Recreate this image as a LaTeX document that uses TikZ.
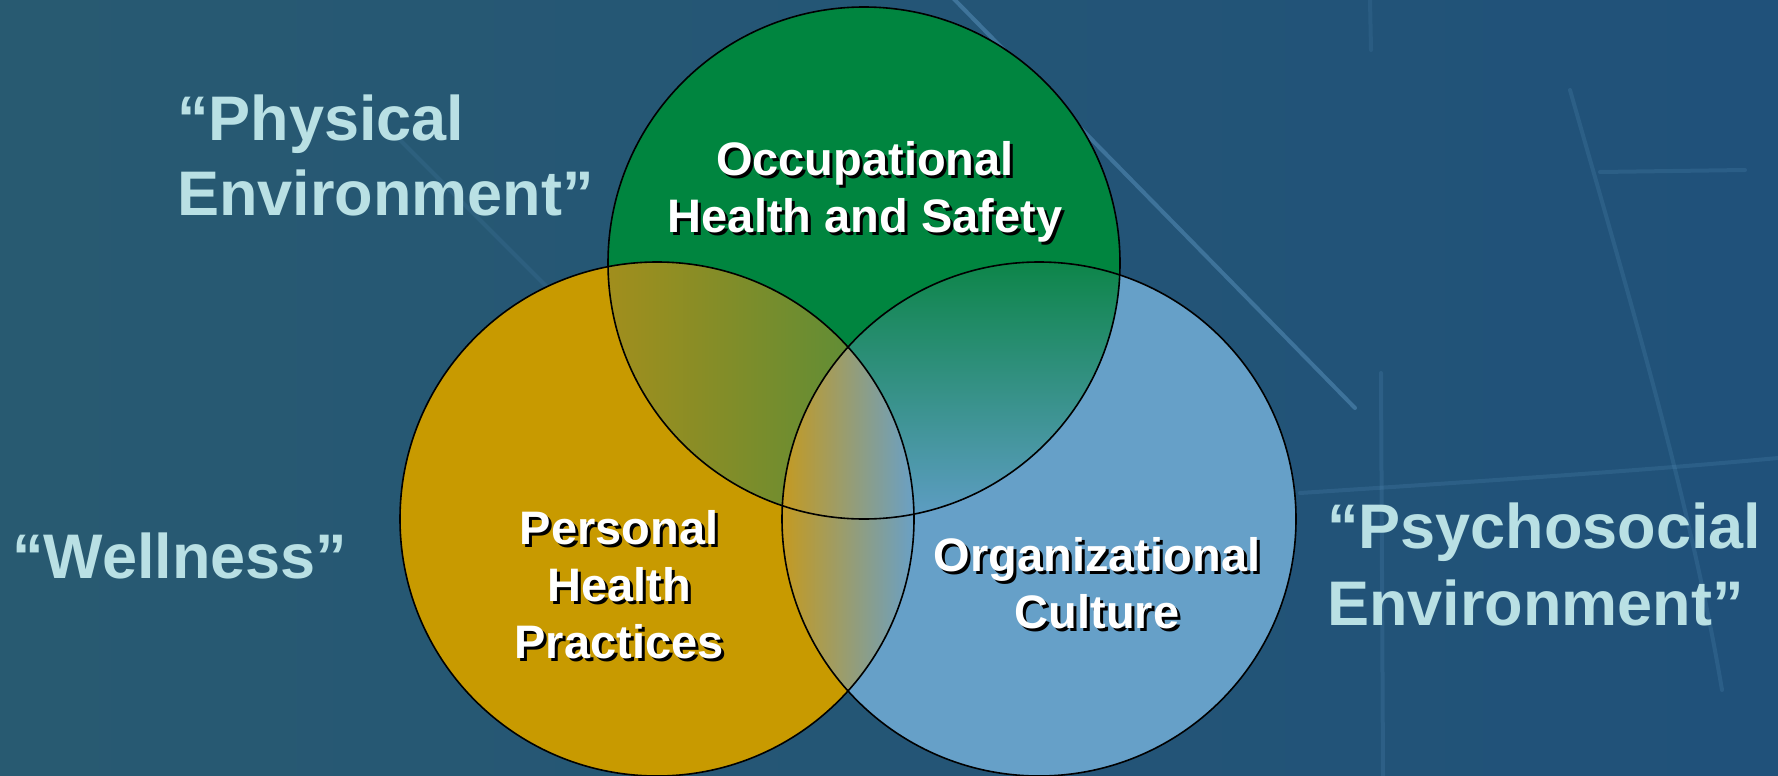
\documentclass[tikz,border=0pt]{standalone}
\usepackage{fontspec}
\setmainfont{Liberation Sans}
\definecolor{bgL}{HTML}{285A71}
\definecolor{bgR}{HTML}{20517A}
\definecolor{streak}{HTML}{5A93BE}
\definecolor{labelcol}{HTML}{B9E0E4}
\definecolor{occgreen}{HTML}{00853F}
\definecolor{persgold}{HTML}{C89A00}
\definecolor{orgblue}{HTML}{66A0C8}
\definecolor{gpL}{HTML}{A28E1C}
\definecolor{gpR}{HTML}{4F8C3C}
\definecolor{gbT}{HTML}{0C8547}
\definecolor{gbB}{HTML}{5E9DC4}
\definecolor{pbL}{HTML}{C69A1E}
\definecolor{pbR}{HTML}{68A0C8}
\begin{document}
\begin{tikzpicture}[x=1pt,y=-1pt,
  outerlabel/.style={font=\fontsize{63}{75}\selectfont\bfseries, text=labelcol, inner sep=0pt, anchor=base west},
  innerlabel/.style={font=\fontsize{47}{56}\selectfont\bfseries, text=white, inner sep=0pt, anchor=base},
  innershadow/.style={font=\fontsize{47}{56}\selectfont\bfseries, text=black, inner sep=0pt, anchor=base},
  bgline/.style={draw=streak, line width=4pt, opacity=0.2, line cap=round},
  ring/.style={draw=black, line width=1.6pt}]
\useasboundingbox (0,0) rectangle (1778,776);
% background
\shade[left color=bgL, right color=bgR] (0,0) rectangle (1778,776);
\draw[bgline, opacity=0.5] (950,-5) -- (1355,408);
\draw[bgline, opacity=0.15] (398,138) -- (560,300);
\draw[bgline] (1381,373) -- (1383,776);
\draw[bgline] (1300,493) .. controls (1500,480) and (1650,470) .. (1778,458);
\draw[bgline] (1600,172) -- (1745,170);
\draw[bgline] (1570,90) .. controls (1630,300) and (1690,500) .. (1722,690);
\draw[bgline, opacity=0.15] (1370,0) -- (1371,50);
% centres
\coordinate (cG) at (864,263);
\coordinate (cP) at (657,519);
\coordinate (cB) at (1039,519);
% base fills
\fill[persgold] (cP) circle[radius=257];
\fill[orgblue] (cB) circle[radius=257];
\fill[occgreen] (cG) circle[radius=256];
% gold & green lens
\begin{scope}
  \clip (cP) circle[radius=257];
  \clip (cG) circle[radius=256];
  \shade[left color=gpL, right color=gpR] (605,258) rectangle (918,518);
\end{scope}
% green & blue lens
\begin{scope}
  \clip (cB) circle[radius=257];
  \clip (cG) circle[radius=256];
  \shade[top color=gbT, bottom color=gbB] (810,258) rectangle (1124,518);
\end{scope}
% gold & blue lens
\begin{scope}
  \clip (cP) circle[radius=257];
  \clip (cB) circle[radius=257];
  \shade[left color=pbL, right color=pbR] (780,344) rectangle (916,694);
\end{scope}
% outlines
\draw[ring] (cP) circle[radius=257];
\draw[ring] (cB) circle[radius=257];
\draw[ring] (cG) circle[radius=256];
% outer labels
\node[outerlabel] (phys1) at (177,140) {“Physical};
\node[outerlabel] (phys2) at (177,215) {Environment”};
\node[outerlabel] (well) at (12,578) {“Wellness”};
\node[outerlabel] (psy1) at (1327,548) {“Psychosocial};
\node[outerlabel] (psy2) at (1327,625) {Environment”};
% inner labels with shadow
\node[innershadow] (occ1s) at (868,178) {Occupational};
\node[innershadow] (occ2s) at (868,235) {Health and Safety};
\node[innerlabel] (occ1) at (865,175) {Occupational};
\node[innerlabel] (occ2) at (865,232) {Health and Safety};
\node[innershadow] (per1s) at (622,547) {Personal};
\node[innershadow] (per2s) at (622,604) {Health};
\node[innershadow] (per3s) at (622,661) {Practices};
\node[innerlabel] (per1) at (619,544) {Personal};
\node[innerlabel] (per2) at (619,601) {Health};
\node[innerlabel] (per3) at (619,658) {Practices};
\node[innershadow] (org1s) at (1100,574) {Organizational};
\node[innershadow] (org2s) at (1100,631) {Culture};
\node[innerlabel] (org1) at (1097,571) {Organizational};
\node[innerlabel] (org2) at (1097,628) {Culture};
\end{tikzpicture}
\end{document}
